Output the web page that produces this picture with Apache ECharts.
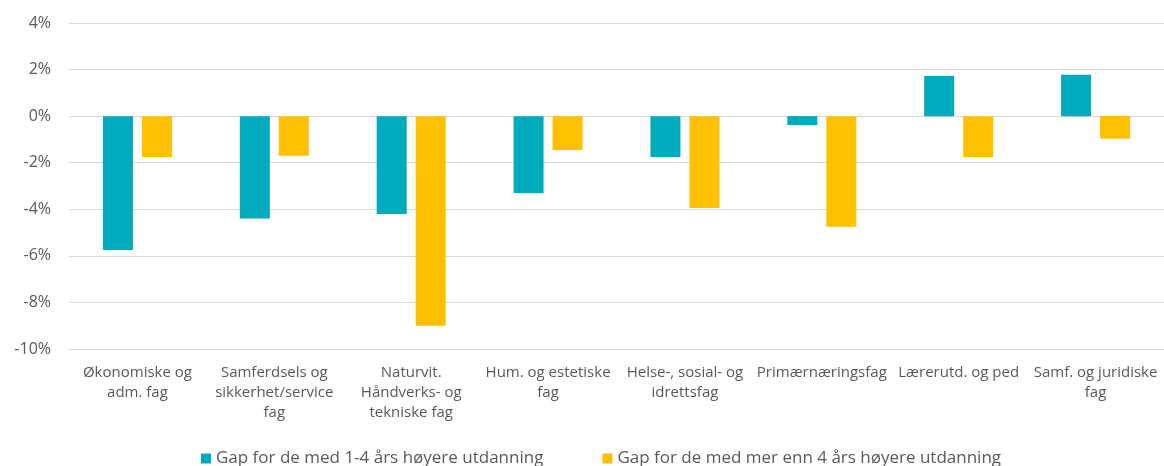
<!DOCTYPE html>
<html>
<head>
<meta charset="utf-8">
<script src="https://cdn.jsdelivr.net/npm/echarts@6/dist/echarts.min.js"></script>
<style>
  html, body { margin: 0; padding: 0; background: #fff; }
  #chart { width: 1164px; height: 466px; }
</style>
</head>
<body>
<div id="chart"></div>
<script>
// fagfelt (kategorier)
const categories = [
  "Økonomiske og\nadm. fag",
  "Samferdsels og\nsikkerhet/service\nfag",
  "Naturvit.\nHåndverks- og\ntekniske fag",
  "Hum. og estetiske\nfag",
  "Helse-, sosial- og\nidrettsfag",
  "Primærnæringsfag",
  "Lærerutd. og ped",
  "Samf. og juridiske\nfag"
];
const seriesNames = [
  "Gap for de med 1-4 års høyere utdanning",
  "Gap for de med mer enn 4 års høyere utdanning"
];
// verdier i prosent
const gapShort = [-5.75, -4.4, -4.2, -3.3, -1.75, -0.38, 1.72, 1.78];
const gapLong = [-1.75, -1.7, -9.0, -1.45, -3.95, -4.75, -1.75, -0.97];

const yMin = -10, yMax = 4, yStep = 2;

const chart = echarts.init(document.getElementById("chart"));
const font = "'Open Sans', 'Liberation Sans', sans-serif";

const option = {
  animation: false,
  textStyle: { fontFamily: font },
  grid: { left: 69, top: 23, width: 1099, height: 326, containLabel: false },
  legend: {
    top: 445,
    left: 196,
    icon: "rect",
    itemWidth: 10,
    itemHeight: 10,
    itemGap: 59,
    textStyle: { fontSize: 17, color: "#595959", fontFamily: font },
    data: seriesNames
  },
  xAxis: {
    type: "category",
    data: categories,
    axisLine: { show: false, onZero: false },
    axisTick: { show: false },
    axisLabel: {
      interval: 0,
      margin: 14,
      fontSize: 15,
      lineHeight: 20,
      color: "#595959",
      fontFamily: font
    }
  },
  yAxis: {
    type: "value",
    min: yMin,
    max: yMax,
    interval: yStep,
    axisLine: { show: false },
    axisTick: { show: false },
    axisLabel: {
      formatter: "{value}%",
      margin: 18,
      fontSize: 16,
      color: "#595959",
      fontFamily: font
    },
    splitLine: { lineStyle: { color: "#d9d9d9", width: 1 } }
  },
  series: [
    {
      name: seriesNames[0],
      type: "bar",
      data: gapShort,
      barWidth: 30,
      barGap: "30%",
      itemStyle: { color: "#00ABBD" }
    },
    {
      name: seriesNames[1],
      type: "bar",
      data: gapLong,
      barWidth: 30,
      barGap: "30%",
      itemStyle: { color: "#FFC000" }
    }
  ]
};
chart.setOption(option);
</script>
</body>
</html>
